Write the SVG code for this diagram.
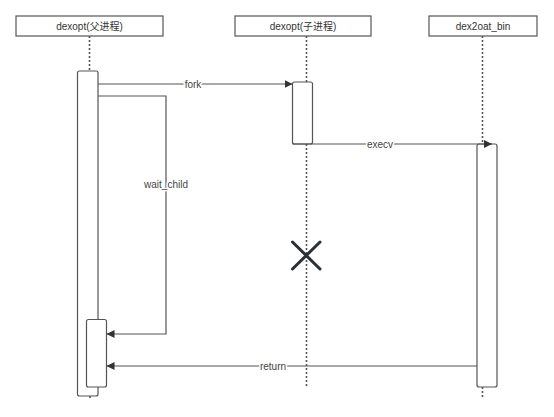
<svg xmlns="http://www.w3.org/2000/svg" width="554" height="417" viewBox="0 0 554 417">
<style>
.hdr{fill:#fff;stroke:#555;stroke-width:1.2}
.act{fill:#fff;stroke:#555;stroke-width:1.2}
.life{stroke:#555;stroke-width:1.6;stroke-dasharray:2 2;fill:none}
.msg{stroke:#555;stroke-width:1.2;fill:none}
.t{font-family:"Liberation Sans","Noto Sans CJK SC",sans-serif;font-size:10px;fill:#333;text-anchor:middle}
.lbl{font-family:"Liberation Sans","Noto Sans CJK SC",sans-serif;font-size:10px;fill:#444;text-anchor:middle;stroke:#fff;stroke-width:3;paint-order:stroke}
</style>
<defs>
<marker id="arr" viewBox="0 0 10 10" refX="10" refY="5" markerWidth="8" markerHeight="8" markerUnits="userSpaceOnUse" orient="auto">
<path d="M0,0 L10,5 L0,10 z" fill="#333"/>
</marker>
</defs>
<rect width="554" height="417" fill="#fff"/>
<g id="lifelines">
<line class="life" x1="89.5" y1="36" x2="89.5" y2="71"/>
<line class="life" x1="90" y1="396" x2="90" y2="400"/>
<line class="life" x1="306.5" y1="36" x2="306.5" y2="82"/>
<line class="life" x1="306.5" y1="144" x2="306.5" y2="387"/>
<line class="life" x1="482.5" y1="36" x2="482.5" y2="144"/>
<line class="life" x1="482.5" y1="387" x2="482.5" y2="398"/>
</g>
<g id="parent">
<rect class="hdr" x="16" y="16" width="147" height="20"/>
<text class="t" x="89.5" y="30">dexopt(父进程)</text>
<rect class="act" x="77.5" y="71" width="20.5" height="325" rx="2"/>
<rect class="act" x="86.5" y="319.5" width="20" height="67.5" rx="2"/>
</g>
<g id="child">
<rect class="hdr" x="235" y="16" width="136" height="20"/>
<text class="t" x="303" y="30">dexopt(子进程)</text>
<rect class="act" x="292.5" y="82" width="20" height="62" rx="2"/>
</g>
<g id="dex2oat">
<rect class="hdr" x="429" y="16" width="108" height="20"/>
<text class="t" x="483" y="30">dex2oat_bin</text>
<rect class="act" x="477" y="144" width="20" height="243" rx="2"/>
</g>
<g id="terminate">
<path d="M292.5,242 L320,269 M320,242 L292.5,269" stroke="#2a3038" stroke-width="3" stroke-linecap="round"/>
</g>
<g id="connectors">
<path class="msg" d="M98,84 L292.5,84" marker-end="url(#arr)"/>
<text class="lbl" x="193" y="87.5">fork</text>
<path class="msg" d="M98,96 L166,96 L166,334 L106.5,334" marker-end="url(#arr)"/>
<text class="lbl" x="166" y="188">wait_child</text>
<path class="msg" d="M292.5,144 L492,144" marker-end="url(#arr)"/>
<text class="lbl" x="380" y="147.5">execv</text>
<path class="msg" d="M477,366 L106.5,366" marker-end="url(#arr)"/>
<text class="lbl" x="273" y="369.5">return</text>
</g>
</svg>
